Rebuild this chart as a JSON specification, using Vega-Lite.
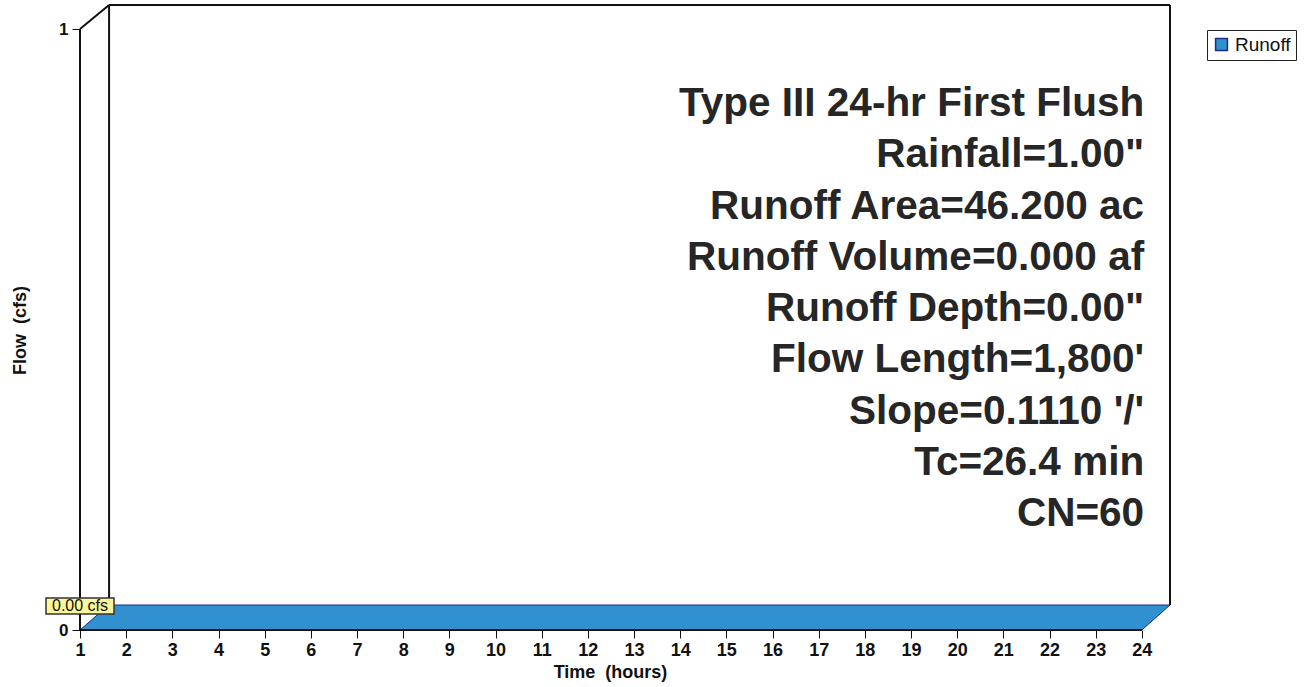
{
  "$schema": "https://vega.github.io/schema/vega-lite/v6.json",
  "width": 1090,
  "height": 628,
  "autosize": {"type": "none"},
  "padding": {"left": 80, "top": 2, "right": 137, "bottom": 57},
  "background": "white",
  "config": {"view": {"stroke": null}, "font": "Liberation Sans"},
  "resolve": {"axis": {"x": "independent", "y": "independent"}},
  "datasets": {
    "slab": [
      {"t": 1, "top": 0, "bottom": 0},
      {"t": 1.62, "top": 0.0416, "bottom": 0},
      {"t": 24, "top": 0.0416, "bottom": 0},
      {"t": 24.61, "top": 0.0416, "bottom": 0.0416}
    ],
    "frame": [
      {"x1": 1, "y1": 0, "x2": 1, "y2": 1},
      {"x1": 1, "y1": 1, "x2": 1.63, "y2": 1.04},
      {"x1": 1.63, "y1": 0.0416, "x2": 1.63, "y2": 1.04},
      {"x1": 1.63, "y1": 1.04, "x2": 24.61, "y2": 1.04},
      {"x1": 24.61, "y1": 1.04, "x2": 24.61, "y2": 0.0416},
      {"x1": 1, "y1": 0, "x2": 24, "y2": 0}
    ],
    "peak": [{"time": 1, "flow": 0, "label": "0.00 cfs"}],
    "notes": [
      {"label": "Type III 24-hr First Flush\nRainfall=1.00\"\nRunoff Area=46.200 ac\nRunoff Volume=0.000 af\nRunoff Depth=0.00\"\nFlow Length=1,800'\nSlope=0.1110 '/'\nTc=26.4 min\nCN=60"}
    ]
  },
  "layer": [
    {
      "data": {"name": "slab"},
      "mark": {"type": "area", "stroke": "#1b2d8a", "strokeWidth": 1, "opacity": 1},
      "encoding": {
        "x": {
          "field": "t", "type": "quantitative",
          "scale": {"domain": [1, 24.61], "nice": false, "zero": false},
          "axis": {
            "orient": "bottom",
            "tickCount": 150,
            "format": "d",
            "labelExpr": "abs(datum.value - round(datum.value)) < 0.001 && datum.value < 24.01 ? datum.label : ''",
            "labelOverlap": false,
            "labelFlush": false,
            "labelFontWeight": "bold",
            "labelFontSize": 18,
            "labelColor": "#111",
            "labelPadding": 3,
            "tickColor": "#111",
            "tickWidth": 1,
            "tickOpacity": {"condition": {"test": "datum.value > 24.01", "value": 0}, "value": 1},
            "tickSize": {"condition": {"test": "abs(datum.value - round(datum.value)) < 0.001", "value": 8}, "value": 4},
            "domain": false,
            "grid": false,
            "title": "Time\u00a0 (hours)",
            "titleFontWeight": "bold",
            "titleFontSize": 18,
            "titleColor": "#111",
            "titleX": 530,
            "titleY": 47,
            "titleBaseline": "alphabetic"
          }
        },
        "y": {
          "field": "top", "type": "quantitative",
          "scale": {"domain": [0, 1.045], "nice": false, "zero": false},
          "axis": {
            "orient": "left",
            "values": [0, 0.2, 0.4, 0.6, 0.8, 1],
            "format": "d",
            "labelExpr": "datum.value === 0 || datum.value === 1 ? datum.label : ''",
            "labelFontSize": 17,
            "labelFontWeight": "bold",
            "labelColor": "#111",
            "labelPadding": 4,
            "labelOverlap": false,
            "labelFlush": false,
            "tickColor": "#111",
            "tickSize": 8,
            "domain": false,
            "grid": false,
            "title": "Flow\u00a0 (cfs)",
            "titleFontWeight": "bold",
            "titleFontSize": 18,
            "titleColor": "#111",
            "titleX": -51,
            "titleY": 328
          }
        },
        "y2": {"field": "bottom"},
        "color": {
          "datum": "Runoff",
          "scale": {"range": ["#3190cf"]},
          "legend": {
            "title": null,
            "orient": "none",
            "legendX": 1127,
            "legendY": 28,
            "fillColor": "white",
            "strokeColor": "#222",
            "padding": 5,
            "labelFontSize": 19,
            "labelColor": "#111",
            "symbolType": "square",
            "symbolSize": 140,
            "symbolStrokeColor": "#1b2d8a",
            "symbolStrokeWidth": 1.5,
            "symbolOpacity": 1
          }
        }
      }
    },
    {
      "data": {"name": "frame"},
      "mark": {"type": "rule", "color": "#111", "strokeWidth": 2},
      "encoding": {
        "x": {"field": "x1", "type": "quantitative", "axis": null},
        "y": {"field": "y1", "type": "quantitative", "axis": null},
        "x2": {"field": "x2"},
        "y2": {"field": "y2"}
      }
    },
    {
      "data": {"name": "peak"},
      "mark": {"type": "point", "shape": "M-3.4,-0.8H3.4V0.8H-3.4Z", "size": 400, "filled": true, "fill": "#fbf79a", "stroke": "#333", "strokeWidth": 1.5, "opacity": 1, "yOffset": -24},
      "encoding": {
        "x": {"field": "time", "type": "quantitative", "axis": null},
        "y": {"field": "flow", "type": "quantitative", "axis": null}
      }
    },
    {
      "data": {"name": "peak"},
      "mark": {"type": "text", "fontSize": 16, "color": "#111", "align": "center", "baseline": "middle", "dy": -24},
      "encoding": {
        "x": {"field": "time", "type": "quantitative", "axis": null},
        "y": {"field": "flow", "type": "quantitative", "axis": null},
        "text": {"field": "label"}
      }
    },
    {
      "data": {"name": "notes"},
      "mark": {"type": "text", "fontSize": 40.5, "fontWeight": "bold", "color": "#262626", "align": "right", "baseline": "alphabetic", "lineBreak": "\n", "lineHeight": 51.25},
      "encoding": {
        "x": {"datum": 24.05, "type": "quantitative", "axis": null},
        "y": {"datum": 0.855, "type": "quantitative", "axis": null},
        "text": {"field": "label"}
      }
    }
  ]
}
